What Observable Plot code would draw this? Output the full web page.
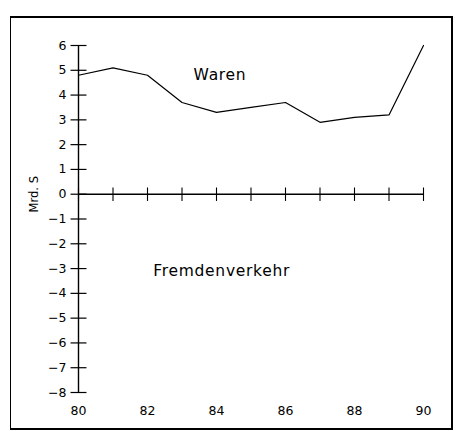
<!DOCTYPE html>
<html>
<head>
<meta charset="utf-8">
<script src="https://cdn.jsdelivr.net/npm/d3@7"></script>
<script src="https://cdn.jsdelivr.net/npm/@observablehq/plot@0.6"></script>
<style>
  html, body { margin: 0; padding: 0; background: #fff; }
  #wrap { position: relative; width: 458px; height: 431px; overflow: hidden; }
  #frame { position: absolute; left: 10px; top: 16px; width: 440px; height: 410px; border: 2px solid #000; border-left-width: 1.5px; box-sizing: content-box; pointer-events: none; }
  #chart { position: absolute; left: 0; top: 0; }
  #chart text.lbl { letter-spacing: 0.7px; }
</style>
</head>
<body>
<div id="wrap">
  <div id="chart"></div>
  <div id="frame"></div>
</div>
<script>
const years = [80, 81, 82, 83, 84, 85, 86, 87, 88, 89, 90];
const waren = [4.8, 5.1, 4.8, 3.7, 3.3, 3.5, 3.7, 2.9, 3.1, 3.2, 6.0];
const xTicks = [80, 82, 84, 86, 88, 90];
const xMinorTicks = [80, 81, 82, 83, 84, 85, 86, 87, 88, 89, 90];
const yTicks = [6, 5, 4, 3, 2, 1, 0, -1, -2, -3, -4, -5, -6, -7, -8];
const yLabel = "Mrd. S";
const seriesLabels = [
  {text: "Waren", x: 84.1, y: 4.8},
  {text: "Fremdenverkehr", x: 84.15, y: -3.1}
];

const data = years.map((y, i) => ({year: y, value: waren[i]}));

const hDash = {draw(ctx, size) { const r = Math.sqrt(size); ctx.moveTo(-r, 0); ctx.lineTo(r, 0); }};
const vDash = {draw(ctx, size) { const r = Math.sqrt(size); ctx.moveTo(0, -r); ctx.lineTo(0, r); }};

const font = "DejaVu Sans, sans-serif";
const chart = Plot.plot({
  width: 458,
  height: 431,
  marginLeft: 78,
  marginRight: 35,
  marginTop: 45,
  marginBottom: 39,
  x: {domain: [80, 90], axis: null},
  y: {domain: [-8, 6], axis: null},
  style: {fontFamily: font, background: "#fff", color: "#000"},
  marks: [
    Plot.ruleX([80], {y1: -8, y2: 6, stroke: "#000", strokeWidth: 1.4}),
    Plot.ruleY([0], {x1: 80, x2: 90, stroke: "#000", strokeWidth: 1.4}),
    Plot.dot(yTicks, {x: 80, y: d => d, symbol: hDash, r: 4.5, stroke: "#000", strokeWidth: 1.2, fill: "none"}),
    Plot.dot(xMinorTicks, {x: d => d, y: 0, symbol: vDash, r: 3.8, stroke: "#000", strokeWidth: 1.1, fill: "none"}),
    Plot.text(yTicks, {x: 80, y: d => d, text: d => d3.format("")(d).replace("-", "\u2212"), dx: -12, textAnchor: "end", fontSize: 12.5, fill: "#000"}),
    Plot.text(xTicks, {x: d => d, y: -8, text: d => String(d), dy: 18, fontSize: 12.5, fill: "#000"}),
    Plot.text([yLabel], {x: 80, y: 0, text: d => d, dx: -44, rotate: -90, fontSize: 11.5, fill: "#000"}),
    Plot.line(data, {x: "year", y: "value", stroke: "#000", strokeWidth: 1.2}),
    Plot.text(seriesLabels, {x: "x", y: "y", text: "text", fontSize: 15.5, fill: "#000", className: "lbl"})
  ]
});
chart.querySelectorAll("g[aria-label='text']").forEach(g => {});
document.getElementById("chart").append(chart);
document.querySelectorAll("#chart .lbl text").forEach(t => t.style.letterSpacing = "0.7px");
</script>
</body>
</html>
